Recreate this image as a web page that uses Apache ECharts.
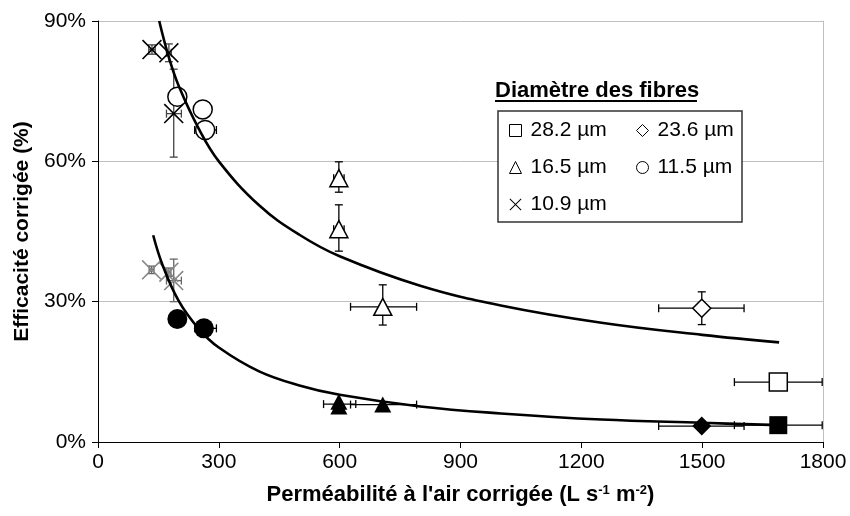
<!DOCTYPE html>
<html><head><meta charset="utf-8">
<script src="https://cdn.jsdelivr.net/npm/echarts@6/dist/echarts.min.js"></script>
<style>html,body{margin:0;padding:0;background:#fff}#c{width:850px;height:516px}</style>
</head><body><div id="c"></div>
<script>
// ---- data (x: air permeability L s-1 m-2, y: corrected efficiency %) ----
const xTicks = [0, 300, 600, 900, 1200, 1500, 1800];
const yTicks = [0, 30, 60, 90];
const fibreLabels = ['28.2 µm', '23.6 µm', '16.5 µm', '11.5 µm', '10.9 µm'];

// open markers (upper group)
const open282 = [[1689, 12.8]];
const open236 = [[1499, 28.6]];
const open165 = [[598, 56.4], [598, 45.5], [707, 28.9]];
const open115 = [[197, 73.8], [260, 71.1], [266, 66.7]];
const open109 = [[134, 83.9], [176, 83.2], [188, 70.2]];

// filled markers (lower group)
const fill282 = [[1689, 3.6]];
const fill236 = [[1499, 3.4]];
const fill165 = [[598, 8.6], [598, 7.6], [707, 8.0]];
const fill115 = [[197, 26.3], [263, 24.3]];
const fill109 = [[133, 36.8], [176, 36.3], [188, 34.5]];

// error bars: [x, y, xLow, xHigh, yLow, yHigh]
const errOpenBlack = [
  [1689, 12.8, 1580, 1798, 12.8, 12.8],
  [1499, 28.6, 1392, 1604, 25.1, 32.1],
  [598, 56.4, 585, 611, 53.4, 59.9],
  [598, 45.5, 585, 611, 40.8, 50.7],
  [707, 28.9, 627, 791, 25.0, 33.6],
  [197, 73.8, 190, 204, 72.5, 75.1],
  [260, 71.1, 255, 265, 69.8, 72.4],
  [266, 66.7, 240, 294, 65.7, 67.7]
];
const errOpenGray = [
  [134, 83.9, 126, 142, 82.9, 84.9],
  [176, 83.2, 170, 182, 81.3, 85.1],
  [188, 70.2, 170, 207, 60.9, 79.7]
];
const errFillBlack = [
  [1689, 3.6, 1580, 1798, 3.6, 3.6],
  [1499, 3.4, 1392, 1604, 3.4, 3.4],
  [598, 8.1, 560, 640, 8.1, 8.1],
  [707, 8.0, 627, 791, 8.0, 8.0],
  [263, 24.3, 240, 294, 24.3, 24.3]
];
const errFillGray = [
  [133, 36.8, 127, 139, 36.0, 37.6],
  [176, 36.3, 171, 181, 35.4, 37.2],
  [188, 34.5, 170, 207, 30.0, 39.1]
];

// fitted curves
const curveUpper = [[152, 90], [175, 82.5], [200, 76.2], [250, 67], [300, 60], [400, 50.6], [500, 44.3],
  [600, 39.7], [800, 33.4], [1000, 29.2], [1250, 25.5], [1500, 22.9], [1691, 21.3]];
const curveLower = [[137, 44.2], [160, 37.9], [200, 30.2], [250, 24.2], [300, 20.2], [400, 15.1], [500, 12.1],
  [600, 10.1], [800, 7.6], [1000, 6.1], [1250, 4.8], [1500, 4.1], [1691, 3.6]];

const FONT = "'Liberation Sans', Arial, sans-serif";
const CROSS = 'path://M0,5.66 L5.66,0 L50,44.34 L94.34,0 L100,5.66 L55.66,50 L100,94.34 L94.34,100 L50,55.66 L5.66,100 L0,94.34 L44.34,50 Z';

function errSeries(data, color) {
  return {
    type: 'custom', z: 2, silent: true,
    data: data,
    renderItem: function (params, api) {
      const x = api.value(0), y = api.value(1);
      const xl = api.value(2), xh = api.value(3), yl = api.value(4), yh = api.value(5);
      const st = { stroke: color, lineWidth: 1.3, fill: null };
      const ch = [];
      const cap = 4;
      if (xh > xl) {
        const a = api.coord([xl, y]), b = api.coord([xh, y]);
        ch.push({ type: 'line', shape: { x1: a[0], y1: a[1], x2: b[0], y2: b[1] }, style: st });
        ch.push({ type: 'line', shape: { x1: a[0], y1: a[1] - cap, x2: a[0], y2: a[1] + cap }, style: st });
        ch.push({ type: 'line', shape: { x1: b[0], y1: b[1] - cap, x2: b[0], y2: b[1] + cap }, style: st });
      }
      if (yh > yl) {
        const a = api.coord([x, yl]), b = api.coord([x, yh]);
        ch.push({ type: 'line', shape: { x1: a[0], y1: a[1], x2: b[0], y2: b[1] }, style: st });
        ch.push({ type: 'line', shape: { x1: a[0] - cap, y1: a[1], x2: a[0] + cap, y2: a[1] }, style: st });
        ch.push({ type: 'line', shape: { x1: b[0] - cap, y1: b[1], x2: b[0] + cap, y2: b[1] }, style: st });
      }
      return { type: 'group', children: ch };
    }
  };
}

const openStyle = { color: '#fff', borderColor: '#000', borderWidth: 1.5, opacity: 1 };
function scat(name, data, symbol, size, style) {
  return { type: 'scatter', name: name, data: data, symbol: symbol, symbolSize: size, z: 3,
    itemStyle: Object.assign({ opacity: 1 }, style), emphasis: { disabled: true } };
}

const chart = echarts.init(document.getElementById('c'));
chart.setOption({
  animation: false,
  textStyle: { fontFamily: FONT },
  grid: { left: 98, right: 27, top: 21, bottom: 74 },
  xAxis: {
    type: 'value', min: xTicks[0], max: xTicks[xTicks.length - 1], interval: 300,
    axisLine: { lineStyle: { color: '#000', width: 1 } },
    axisTick: { show: true, length: 6, lineStyle: { color: '#000' } },
    splitLine: { show: false },
    axisLabel: { fontSize: 21, color: '#000', margin: 10, fontFamily: FONT, formatter: function (v) { return String(v); } },
    name: "Perméabilité à l'air corrigée (L s{sup|-1} m{sup|-2})",
    nameLocation: 'middle', nameGap: 42,
    nameTextStyle: { fontSize: 22, fontWeight: 'bold', color: '#000', fontFamily: FONT,
      rich: { sup: { fontSize: 13, fontWeight: 'bold', color: '#000', fontFamily: FONT, verticalAlign: 'top', padding: [0, 0, 8, 0] } } }
  },
  yAxis: [{
    type: 'value', min: yTicks[0], max: yTicks[yTicks.length - 1], interval: 30,
    axisLine: { show: true, lineStyle: { color: '#000', width: 1 } },
    axisTick: { show: true, length: 6, lineStyle: { color: '#000' } },
    splitLine: { show: true, lineStyle: { color: '#c0c0c0', width: 1 } },
    axisLabel: { fontSize: 21, color: '#000', margin: 12, formatter: '{value}%', fontFamily: FONT },
    name: 'Efficacité corrigée (%)', nameLocation: 'middle', nameGap: 64,
    nameTextStyle: { fontSize: 21, fontWeight: 'bold', color: '#000', fontFamily: FONT }
  }, {
    type: 'value', position: 'right', min: 0, max: 90, interval: 30,
    axisLine: { show: true, lineStyle: { color: '#c0c0c0' } },
    axisTick: { show: false }, axisLabel: { show: false }, splitLine: { show: false }
  }],
  legend: [{
    orient: 'vertical', left: 509, top: 120, itemGap: 16, itemWidth: 12, itemHeight: 12, padding: 0,
    selectedMode: false, z: 10,
    textStyle: { fontSize: 21, color: '#000', fontFamily: FONT, padding: [0, 0, 0, 4] },
    data: [
      { name: fibreLabels[0], icon: 'rect', itemStyle: { color: '#fff', borderColor: '#000', borderWidth: 1 } },
      { name: fibreLabels[2], icon: 'triangle', itemStyle: { color: '#fff', borderColor: '#000', borderWidth: 1 } },
      { name: fibreLabels[4], icon: CROSS, itemStyle: { color: '#000', borderWidth: 0 } }
    ]
  }, {
    orient: 'vertical', left: 636, top: 120, itemGap: 16, itemWidth: 12, itemHeight: 12, padding: 0,
    selectedMode: false, z: 10,
    textStyle: { fontSize: 21, color: '#000', fontFamily: FONT, padding: [0, 0, 0, 4] },
    data: [
      { name: fibreLabels[1], icon: 'diamond', itemStyle: { color: '#fff', borderColor: '#000', borderWidth: 1 } },
      { name: fibreLabels[3], icon: 'circle', itemStyle: { color: '#fff', borderColor: '#000', borderWidth: 1 } }
    ]
  }],
  graphic: [
    { type: 'rect', z: 8, shape: { x: 498, y: 111, width: 244, height: 111 }, style: { fill: '#fff', stroke: '#333', lineWidth: 1.5 } },
    { type: 'text', z: 8, left: 495, top: 80, style: { text: 'Diamètre des fibres', font: "bold 22px 'Liberation Sans', Arial, sans-serif", fill: '#000' } },
    { type: 'line', z: 8, shape: { x1: 495, y1: 101, x2: 697, y2: 101 }, style: { stroke: '#000', lineWidth: 2 } }
  ],
  series: [
    errSeries(errOpenBlack, '#000'),
    errSeries(errOpenGray, '#444'),
    errSeries(errFillBlack, '#000'),
    errSeries(errFillGray, '#666'),
    scat(fibreLabels[0], open282, 'rect', 18, openStyle),
    scat(fibreLabels[1], open236, 'diamond', 18, openStyle),
    scat(fibreLabels[2], open165, 'triangle', [18, 17], openStyle),
    scat(fibreLabels[3], open115, 'circle', 19, openStyle),
    scat(fibreLabels[4], open109, CROSS, 20, { color: '#000' }),
    scat('f282', fill282, 'rect', 18, { color: '#000' }),
    scat('f236', fill236, 'diamond', 19, { color: '#000' }),
    scat('f165', fill165, 'triangle', [17, 16], { color: '#000' }),
    scat('f115', fill115, 'circle', 20, { color: '#000' }),
    scat('f109', fill109, CROSS, 20, { color: '#888' }),
    { type: 'line', data: curveUpper, smooth: 0.4, showSymbol: false, z: 4, lineStyle: { color: '#000', width: 2.6 }, silent: true },
    { type: 'line', data: curveLower, smooth: 0.4, showSymbol: false, z: 4, lineStyle: { color: '#000', width: 2.6 }, silent: true }
  ]
});
</script>
</body></html>
